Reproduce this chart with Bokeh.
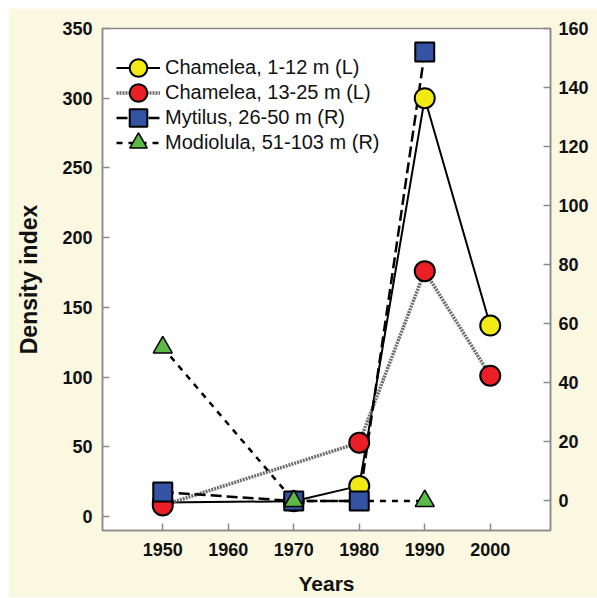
from bokeh.plotting import figure
from bokeh.models import Range1d, LinearAxis, FixedTicker, Legend, LegendItem
from bokeh.embed import file_html
from bokeh.resources import INLINE

# ---- data ----
years_yellow = [1950, 1970, 1980, 1990, 2000]
cham_shallow = [10, 11, 22, 300, 137]          # Chamelea 1-12 m (left axis)

years_red = [1950, 1980, 1990, 2000]
cham_deep = [8, 53, 176, 101]                  # Chamelea 13-25 m (left axis)

years_blue = [1950, 1970, 1980, 1990]
mytilus = [3, 0, 0, 152]                       # Mytilus 26-50 m (right axis)

years_green = [1950, 1970, 1990]
modiolula = [52, 0, 0]                         # Modiolula 51-103 m (right axis)

x_ticks = [1950, 1960, 1970, 1980, 1990, 2000]
left_ticks = [0, 50, 100, 150, 200, 250, 300, 350]
right_ticks = [0, 20, 40, 60, 80, 100, 120, 140, 160]

labels = ["Chamelea, 1-12 m (L)", "Chamelea, 13-25 m (L)",
          "Mytilus, 26-50 m (R)", "Modiolula, 51-103 m (R)"]

# ---- styles ----
CREAM = "#fbf8e2"
GRAY = "#8a8a8a"
FONT = "Liberation Sans"

p = figure(width=589, height=589,
           x_range=Range1d(1940.8, 2009.2), y_range=Range1d(-10, 350),
           output_backend="svg", toolbar_location=None,
           min_border_left=94, min_border_right=47,
           min_border_top=20, min_border_bottom=67,
           background_fill_color="white", border_fill_color=CREAM,
           outline_line_color=GRAY, outline_line_width=1.5,
           margin=(8, 0, 0, 8))
p.extra_y_ranges = {"right": Range1d(-10, 160)}
p.xgrid.visible = False
p.ygrid.visible = False

right_axis = LinearAxis(y_range_name="right")
p.add_layout(right_axis, "right")

for ax, ticks in ((p.xaxis[0], x_ticks), (p.yaxis[0], left_ticks), (right_axis, right_ticks)):
    ax.ticker = FixedTicker(ticks=ticks)
    ax.axis_line_color = GRAY
    ax.axis_line_width = 1.5
    ax.major_tick_line_color = GRAY
    ax.major_tick_line_width = 1.5
    ax.major_tick_in = 7
    ax.major_tick_out = 0
    ax.minor_tick_line_color = None
    ax.major_label_text_font = FONT
    ax.major_label_text_font_size = "18px"
    ax.major_label_text_font_style = "bold"
    ax.major_label_text_color = "#111111"

p.xaxis[0].major_label_standoff = 12
p.yaxis[0].major_label_standoff = 10
right_axis.major_label_standoff = 8

p.xaxis[0].axis_label = "Years"
p.xaxis[0].axis_label_text_font = FONT
p.xaxis[0].axis_label_text_font_size = "21px"
p.xaxis[0].axis_label_text_font_style = "bold"
p.xaxis[0].axis_label_text_color = "#111111"
p.xaxis[0].axis_label_standoff = 13

p.yaxis[0].axis_label = "Density index"
p.yaxis[0].axis_label_text_font = FONT
p.yaxis[0].axis_label_text_font_size = "23px"
p.yaxis[0].axis_label_text_font_style = "bold"
p.yaxis[0].axis_label_text_color = "#111111"
p.yaxis[0].axis_label_standoff = 17

# ---- lines ----
l1 = p.line(years_yellow, cham_shallow, line_color="black", line_width=2)
l2 = p.line(years_red, cham_deep, line_color="#6e6e6e", line_width=3.5, line_dash="2 1")
l3 = p.line(years_blue, mytilus, y_range_name="right", line_color="black",
            line_width=2.5, line_dash="11 5")
l4 = p.line(years_green, modiolula, y_range_name="right", line_color="black",
            line_width=2.5, line_dash="6 6")

# ---- markers ----
m1 = p.scatter(years_yellow, cham_shallow, marker="circle", size=20,
               fill_color="#f2ea14", line_color="black", line_width=2)
m2 = p.scatter(years_red, cham_deep, marker="circle", size=20,
               fill_color="#ec1f26", line_color="black", line_width=2)
m3 = p.scatter(years_blue, mytilus, y_range_name="right", marker="square", size=19,
               fill_color="#3552a3", line_color="black", line_width=2)
m4 = p.scatter(years_green, modiolula, y_range_name="right", marker="triangle", size=19,
               fill_color="#5cb947", line_color="black", line_width=1.5)

# one legend per row so rows can sit closer than the glyph box height
row_bottoms = [440, 415, 390, 365]
pairs = [(l1, m1), (l2, m2), (l3, m3), (l4, m4)]
for lab, (ln, mk), yb in zip(labels, pairs, row_bottoms):
    lg = Legend(items=[LegendItem(label=lab, renderers=[ln, mk])], location=(14, yb))
    lg.glyph_width = 44
    lg.glyph_height = 45
    lg.label_height = 45
    lg.padding = 0
    lg.margin = 0
    lg.label_standoff = 5
    lg.label_text_font = FONT
    lg.label_text_font_size = "20px"
    lg.label_text_color = "#111111"
    lg.border_line_color = None
    lg.background_fill_alpha = 0
    p.add_layout(lg, "center")

open("out.html", "w").write(file_html(p, INLINE))
